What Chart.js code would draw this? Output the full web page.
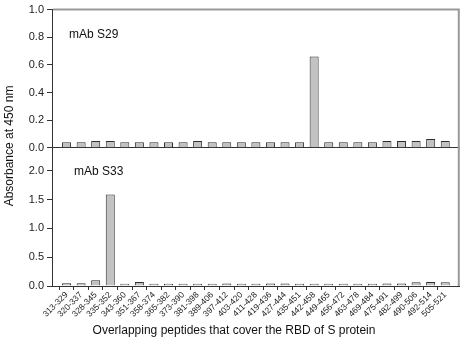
<!DOCTYPE html>
<html lang="en">
<head>
<meta charset="UTF-8">
<title>Peptide ELISA</title>
<script src="https://cdn.jsdelivr.net/npm/chart.js@4"></script>
<style>
  body { margin: 0; background: #ffffff; }
  #wrap { position: relative; width: 467px; height: 343px; }
</style>
</head>
<body>
<div id="wrap"><canvas id="elisa" width="467" height="343"></canvas></div>
<script>
const peptides = ['313-329', '320-337', '328-345', '335-352', '343-360', '351-367', '358-374',
  '365-382', '373-390', '381-398', '389-406', '397-412', '403-420', '411-428', '419-436',
  '427-444', '435-451', '442-458', '449-465', '456-472', '463-478', '469-484', '475-491',
  '482-499', '490-506', '492-514', '505-521'];
const s29 = [0.041, 0.041, 0.05, 0.05, 0.041, 0.041, 0.041, 0.041, 0.041, 0.05, 0.04, 0.04,
  0.04, 0.04, 0.04, 0.04, 0.04, 0.66, 0.04, 0.04, 0.04, 0.04, 0.05, 0.05, 0.05, 0.063, 0.05];
const s33 = [0.047, 0.047, 0.10, 1.59, 0.04, 0.07, 0.04, 0.04, 0.04, 0.04, 0.04, 0.042,
  0.04, 0.04, 0.045, 0.045, 0.04, 0.04, 0.04, 0.04, 0.04, 0.04, 0.045, 0.045, 0.065, 0.07, 0.065];
const panelNames = ['mAb S29', 'mAb S33'];
const yTitle = 'Absorbance at 450 nm';
const xTitle = 'Overlapping peptides that cover the RBD of S protein';

// one empty slot at each end gives the gap between the axes and the first/last bar
const labels = ['', ...peptides, ''];
const pad = arr => [null, ...arr, null];
const lastIdx = labels.length - 1;

const FONT = '"Liberation Sans", Arial, sans-serif';
const AXIS = '#333333';
const BAR_FILL = '#c2c2c2';
const BAR_EDGE = '#2e2e2e';

const textPlugin = {
  id: 'texts',
  afterDraw(chart) {
    const { ctx, chartArea: a, scales } = chart;
    ctx.save();
    // grey frame on top and right
    ctx.strokeStyle = '#9a9a9a';
    ctx.lineWidth = 2;
    ctx.beginPath();
    ctx.moveTo(a.left + 1, a.top);
    ctx.lineTo(a.right - 1, a.top);
    ctx.lineTo(a.right - 1, a.bottom);
    ctx.stroke();

    ctx.fillStyle = '#111111';
    ctx.font = '12px ' + FONT;
    ctx.textBaseline = 'middle';
    ctx.textAlign = 'left';
    ctx.fillText(panelNames[0], a.left + 17, scales.yTop.getPixelForValue(0.82));
    ctx.fillText(panelNames[1], a.left + 22, scales.yBot.getPixelForValue(1.98));

    ctx.textAlign = 'center';
    ctx.fillText(xTitle, 234, 331);

    ctx.translate(10, 146);
    ctx.rotate(-Math.PI / 2);
    ctx.fillText(yTitle, 0, 0);
    ctx.restore();
  }
};

const yWidth = scale => { scale.width = 52; };

new Chart(document.getElementById('elisa'), {
  type: 'bar',
  data: {
    labels: labels,
    datasets: [
      {
        label: panelNames[1],
        data: pad(s33),
        yAxisID: 'yBot',
        backgroundColor: BAR_FILL,
        borderColor: BAR_EDGE,
        borderWidth: 1
      },
      {
        label: panelNames[0],
        data: pad(s29),
        yAxisID: 'yTop',
        backgroundColor: BAR_FILL,
        borderColor: BAR_EDGE,
        borderWidth: 1
      }
    ]
  },
  options: {
    responsive: false,
    animation: false,
    layout: { padding: { top: 5, right: 0, left: 0, bottom: 0 } },
    datasets: {
      bar: {
        grouped: false,
        barPercentage: 0.62,
        categoryPercentage: 1
      }
    },
    plugins: {
      legend: { display: false },
      tooltip: { enabled: false },
      colors: { enabled: false }
    },
    scales: {
      x: {
        offset: false,
        border: { color: AXIS },
        grid: {
          drawOnChartArea: false,
          tickLength: 4,
          color: ctx => (ctx.index === 0 || ctx.index === lastIdx) ? 'rgba(0,0,0,0)' : AXIS
        },
        ticks: {
          autoSkip: false,
          minRotation: 45,
          maxRotation: 45,
          padding: 0,
          color: '#222222',
          font: { family: FONT, size: 8.5 }
        },
        afterFit: scale => { scale.height = 57; }
      },
      yBot: {
        position: 'left',
        stack: 'panels',
        stackWeight: 1,
        min: 0,
        max: 2.4,
        border: { color: AXIS },
        grid: { drawOnChartArea: false, tickLength: 5, color: AXIS },
        ticks: {
          stepSize: 0.5,
          padding: 3,
          color: '#222222',
          font: { family: FONT, size: 11 },
          callback: v => (Math.abs(v * 2 - Math.round(v * 2)) < 1e-6) ? v.toFixed(1) : ''
        },
        afterFit: yWidth
      },
      yTop: {
        position: 'left',
        stack: 'panels',
        stackWeight: 1,
        min: 0,
        max: 1,
        border: { color: AXIS },
        grid: {
          color: ctx => ctx.tick && ctx.tick.value === 0 ? AXIS : 'rgba(0,0,0,0)',
          tickColor: AXIS,
          tickLength: 5
        },
        ticks: {
          stepSize: 0.2,
          padding: 3,
          color: '#222222',
          font: { family: FONT, size: 11 },
          callback: v => v.toFixed(1)
        },
        afterFit: yWidth
      }
    }
  },
  plugins: [textPlugin]
});
</script>
</body>
</html>
